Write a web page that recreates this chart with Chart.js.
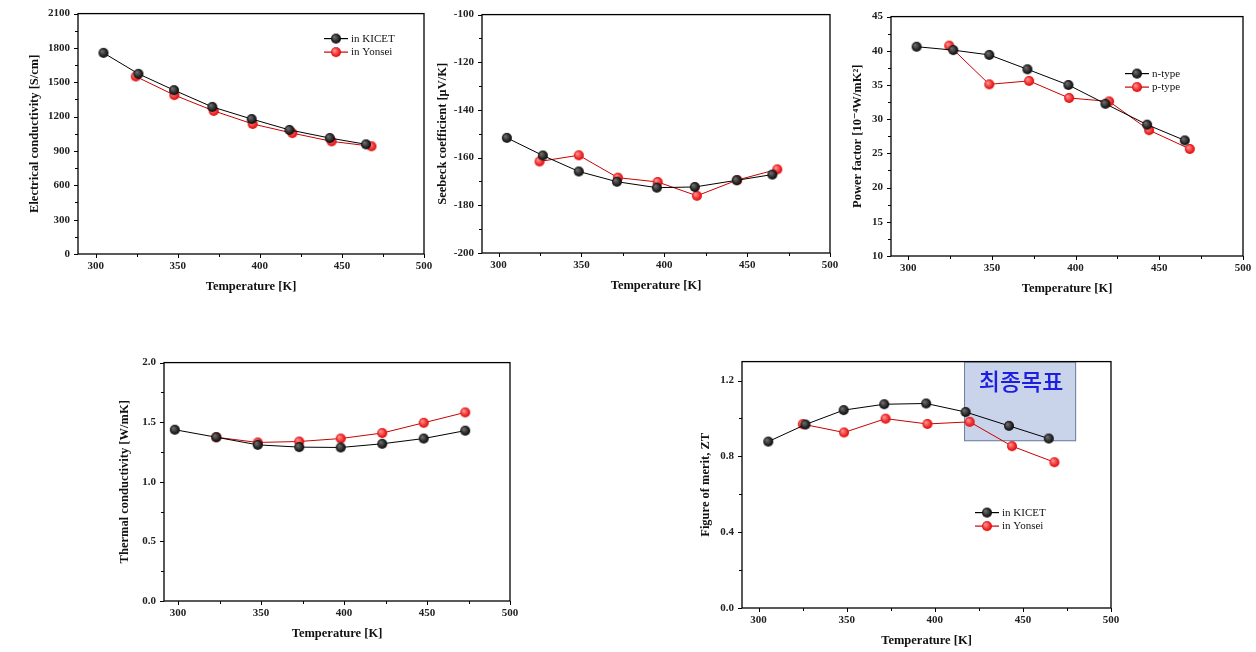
<!DOCTYPE html>
<html><head><meta charset="utf-8">
<script src="https://cdn.jsdelivr.net/npm/chart.js@4.4.0/dist/chart.umd.min.js"></script>
<style>
body{margin:0;background:#fff;width:1256px;height:652px;overflow:hidden;position:relative}
canvas{position:absolute}
</style>
</head><body>
<script>
// ---------- data ----------
const tempTicks = [300, 350, 400, 450, 500];
const tempMinor = [325, 375, 425, 475];

// Electrical conductivity [S/cm]
const ecTempKicet = [304.7, 326, 347.7, 371, 395, 418, 442.6, 464.7];
const ecKicet     = [1757, 1574, 1431, 1285, 1179, 1084, 1013, 958];
const ecTempYonsei = [324.4, 347.9, 371.9, 395.6, 419.8, 443.7, 468];
const ecYonsei     = [1551, 1388, 1250, 1136, 1056, 984, 941];
const ecTicks = [0, 300, 600, 900, 1200, 1500, 1800, 2100];
const ecMinor = [150, 450, 750, 1050, 1350, 1650, 1950];

// Seebeck coefficient [uV/K]
const sbTempKicet = [305, 326.7, 348.4, 371.4, 395.5, 418.4, 443.7, 465.2];
const sbKicet     = [-151.7, -159.1, -165.8, -170.1, -172.6, -172.3, -169.5, -167.1];
const sbTempYonsei = [324.7, 348.4, 372, 396, 419.7, 444, 468.2];
const sbYonsei     = [-161.6, -159.0, -168.4, -170.2, -176.0, -169.4, -164.9];
const sbTicks = [-200, -180, -160, -140, -120, -100];
const sbMinor = [-190, -170, -150, -130, -110];

// Power factor [10^-4 W/mK^2]
const pfTempN = [305, 326.9, 348.4, 371.2, 395.7, 417.8, 442.7, 465.2];
const pfN     = [40.6, 40.1, 39.4, 37.3, 35.0, 32.25, 29.2, 26.9];
const pfTempP = [324.5, 348.4, 372.2, 396.1, 420, 443.9, 468.2];
const pfP     = [40.75, 35.1, 35.6, 33.1, 32.6, 28.4, 25.65];
const pfTicks = [10, 15, 20, 25, 30, 35, 40, 45];
const pfMinor = [12.5, 17.5, 22.5, 27.5, 32.5, 37.5, 42.5];

// Thermal conductivity [W/mK]
const tcTempKicet = [298, 323, 348, 373, 398, 423, 448, 473];
const tcKicet     = [1.437, 1.374, 1.31, 1.291, 1.288, 1.319, 1.363, 1.429];
const tcTempYonsei = [323, 348, 373, 398, 423, 448, 473];
const tcYonsei     = [1.374, 1.33, 1.338, 1.363, 1.409, 1.495, 1.582];
const tcTicks = [0, 0.5, 1.0, 1.5, 2.0];
const tcMinor = [0.25, 0.75, 1.25, 1.75];

// Figure of merit ZT
const ztTempKicet = [305.5, 326.6, 348.3, 371.3, 395.1, 417.5, 442.1, 464.7];
const ztKicet     = [0.878, 0.968, 1.044, 1.075, 1.079, 1.034, 0.961, 0.894];
const ztTempYonsei = [325.1, 348.5, 372.1, 395.8, 419.8, 443.8, 467.9];
const ztYonsei     = [0.970, 0.926, 0.999, 0.971, 0.982, 0.854, 0.769];
const ztTicks = [0, 0.4, 0.8, 1.2];
const ztMinor = [0.2, 0.6, 1.0];
const targetLabel = '최종목표';
const targetTemp = [416.6, 480.2];
const targetZT = [0.88, 1.3];

const labelsLab = ['in KICET', 'in Yonsei'];
const labelsType = ['n-type', 'p-type'];

// ---------- helpers ----------
function ball(base, hi, r) {
  const c = document.createElement('canvas');
  const s = Math.ceil(r * 2 + 2);
  c.width = c.height = s;
  const g = c.getContext('2d');
  const cx = s / 2;
  const grd = g.createRadialGradient(cx - r * 0.35, cx - r * 0.35, r * 0.1, cx, cx, r);
  grd.addColorStop(0, hi);
  grd.addColorStop(1, base);
  g.fillStyle = grd;
  g.beginPath(); g.arc(cx, cx, r, 0, Math.PI * 2); g.fill();
  return c;
}
const blackBall = ball('#050505', '#6e6e6e', 5);
const redBall = ball('#e30000', '#ff9090', 5);

function pts(xs, ys) { return xs.map((x, i) => ({ x: x, y: ys[i] })); }

const SERIF = "'Liberation Serif', 'DejaVu Serif', serif";

const framePlugin = {
  id: 'frame',
  afterDraw(chart, args, opts) {
    const { ctx, chartArea: a, scales } = chart;
    ctx.save();
    ctx.strokeStyle = '#000';
    ctx.lineWidth = 1.3;
    ctx.strokeRect(a.left, a.top, a.right - a.left, a.bottom - a.top);
    ctx.lineWidth = 1;
    ctx.beginPath();
    const xs = scales.x, ys = scales.y;
    tempTicks.forEach(v => { const p = Math.round(xs.getPixelForValue(v)) + 0.5; ctx.moveTo(p, a.bottom); ctx.lineTo(p, a.bottom + 4); });
    tempMinor.forEach(v => { const p = Math.round(xs.getPixelForValue(v)) + 0.5; ctx.moveTo(p, a.bottom); ctx.lineTo(p, a.bottom + 3); });
    opts.yMajor.forEach(v => { const p = Math.round(ys.getPixelForValue(v)) + 0.5; ctx.moveTo(a.left, p); ctx.lineTo(a.left - 4, p); });
    opts.yMinor.forEach(v => { const p = Math.round(ys.getPixelForValue(v)) + 0.5; ctx.moveTo(a.left, p); ctx.lineTo(a.left - 3, p); });
    ctx.stroke();
    // legend
    if (opts.legend) {
      const lx = a.left + opts.legend.dx, ly = a.top + opts.legend.dy;
      chart.data.datasets.forEach((ds, i) => {
        const y = ly + i * 13.5;
        ctx.strokeStyle = ds.borderColor; ctx.lineWidth = 1.2;
        ctx.beginPath(); ctx.moveTo(lx, y); ctx.lineTo(lx + 24, y); ctx.stroke();
        const img = ds.pointStyle;
        ctx.drawImage(img, lx + 12 - img.width / 2, y - img.height / 2);
        ctx.fillStyle = '#111';
        ctx.font = "11px " + SERIF;
        ctx.textBaseline = 'middle'; ctx.textAlign = 'left';
        ctx.fillText(ds.label, lx + 27, y + 0.5);
      });
    }
    ctx.restore();
  },
  beforeDatasetsDraw(chart, args, opts) {
    if (!opts.box) return;
    const { ctx, scales } = chart;
    const b = opts.box;
    const x0 = scales.x.getPixelForValue(b.x[0]), x1 = scales.x.getPixelForValue(b.x[1]);
    const y0 = scales.y.getPixelForValue(b.y[1]), y1 = scales.y.getPixelForValue(b.y[0]);
    ctx.save();
    ctx.fillStyle = '#c9d3ea';
    ctx.fillRect(x0, y0, x1 - x0, y1 - y0);
    ctx.strokeStyle = '#6f7f9f';
    ctx.lineWidth = 1;
    ctx.strokeRect(x0 + 0.5, y0 + 0.5, x1 - x0 - 1, y1 - y0 - 1);
    ctx.fillStyle = '#1e1ee0';
    ctx.font = "500 23px 'Noto Sans CJK KR', sans-serif";
    ctx.textAlign = 'center'; ctx.textBaseline = 'middle';
    ctx.fillText(b.text, (x0 + x1) / 2 + 1, y0 + 20);
    ctx.restore();
  }
};

function makePanel(cfg) {
  const Yw = 80, Xh = 48, pt = 10, pr = 16;
  const [L, T, R, B] = cfg.area;
  const W = R - L, H = B - T;
  const cv = document.createElement('canvas');
  cv.width = W + Yw + pr; cv.height = H + pt + Xh;
  cv.style.left = (L - Yw) + 'px'; cv.style.top = (T - pt) + 'px';
  cv.style.width = cv.width + 'px'; cv.style.height = cv.height + 'px';
  document.body.appendChild(cv);
  const tickFont = { family: SERIF, weight: 'bold', size: 11 };
  const titleFont = { family: SERIF, weight: 'bold', size: 12.5 };
  const datasets = cfg.series.map((s, i) => ({
    label: s.label,
    data: pts(s.x, s.y),
    showLine: true,
    borderColor: i === 0 ? '#000' : '#c80000',
    borderWidth: 1,
    pointStyle: i === 0 ? blackBall : redBall,
    pointRadius: 5,
    tension: 0
  }));
  new Chart(cv, {
    type: 'scatter',
    data: { datasets: datasets },
    options: {
      responsive: false, animation: false, devicePixelRatio: 1,
      layout: { padding: { top: pt, right: pr, left: 0, bottom: 0 } },
      plugins: {
        legend: { display: false }, tooltip: { enabled: false },
        frame: { yMajor: cfg.yTicks, yMinor: cfg.yMinor, legend: cfg.legend, box: cfg.box }
      },
      scales: {
        x: {
          type: 'linear', min: cfg.xmin, max: 500,
          afterBuildTicks: s => { s.ticks = tempTicks.map(v => ({ value: v })); },
          afterFit: s => { s.height = Xh; },
          grid: { display: false, drawTicks: false }, border: { display: false },
          ticks: { padding: 6, font: tickFont, color: '#222', maxRotation: 0 },
          title: { display: true, text: 'Temperature [K]', font: titleFont, color: '#111', padding: { top: 0, bottom: Xh - 32.5 - 7.5 } }
        },
        y: {
          type: 'linear', min: cfg.yTicks[0], max: cfg.ymax,
          afterBuildTicks: s => { s.ticks = cfg.yTicks.map(v => ({ value: v })); },
          afterFit: s => { s.width = Yw; },
          grid: { display: false, drawTicks: false }, border: { display: false },
          ticks: { padding: 8, font: tickFont, color: '#222', callback: cfg.yFmt || (v => String(v)) },
          title: { display: true, text: cfg.yTitle, font: titleFont, color: '#111', padding: { top: Yw - cfg.titleDist - 7.5, bottom: 0 } }
        }
      }
    },
    plugins: [framePlugin]
  });
}

makePanel({
  area: [78, 9, 424, 254], xmin: 289.2, ymax: 2100,
  yTicks: ecTicks, yMinor: ecMinor, yTitle: 'Electrical conductivity [S/cm]', titleDist: 43,
  series: [{ label: labelsLab[0], x: ecTempKicet, y: ecKicet }, { label: labelsLab[1], x: ecTempYonsei, y: ecYonsei }],
  legend: { dx: 246, dy: 25 }
});
makePanel({
  area: [482, 10, 830, 253], xmin: 290, ymax: -100,
  yTicks: sbTicks, yMinor: sbMinor, yTitle: 'Seebeck coefficient [μV/K]', titleDist: 39,
  series: [{ label: labelsLab[0], x: sbTempKicet, y: sbKicet }, { label: labelsLab[1], x: sbTempYonsei, y: sbYonsei }]
});
makePanel({
  area: [891, 12, 1243, 256], xmin: 289.7, ymax: 45,
  yTicks: pfTicks, yMinor: pfMinor, yTitle: 'Power factor [10⁻⁴W/mK²]', titleDist: 33,
  series: [{ label: labelsType[0], x: pfTempN, y: pfN }, { label: labelsType[1], x: pfTempP, y: pfP }],
  legend: { dx: 234, dy: 57 }
});
makePanel({
  area: [164, 358, 510, 601], xmin: 291.5, ymax: 2.0,
  yTicks: tcTicks, yMinor: tcMinor, yTitle: 'Thermal conductivity [W/mK]', titleDist: 39,
  yFmt: v => v.toFixed(1),
  series: [{ label: labelsLab[0], x: tcTempKicet, y: tcKicet }, { label: labelsLab[1], x: tcTempYonsei, y: tcYonsei }]
});
makePanel({
  area: [742, 357, 1111, 608], xmin: 290.6, ymax: 1.3,
  yTicks: ztTicks, yMinor: ztMinor, yTitle: 'Figure of merit, ZT', titleDist: 36,
  yFmt: v => v.toFixed(1),
  series: [{ label: labelsLab[0], x: ztTempKicet, y: ztKicet }, { label: labelsLab[1], x: ztTempYonsei, y: ztYonsei }],
  legend: { dx: 233, dy: 151 },
  box: { x: targetTemp, y: targetZT, text: targetLabel }
});
</script>
</body></html>
